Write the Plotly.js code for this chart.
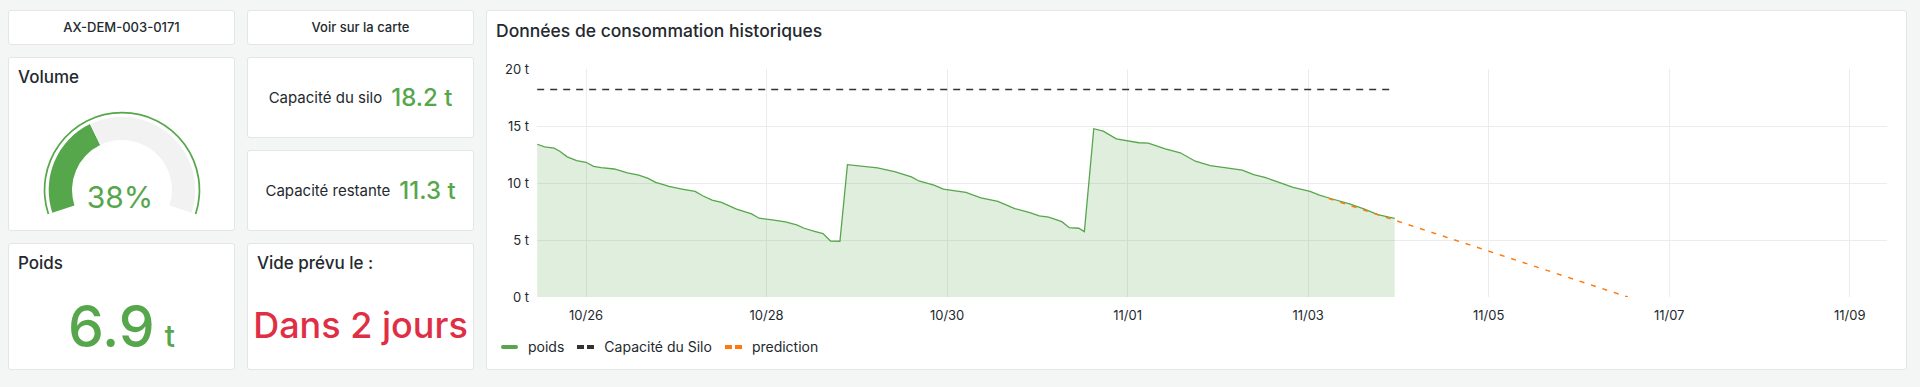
<!DOCTYPE html>
<html><head><meta charset="utf-8">
<script src="https://cdn.plot.ly/plotly-3.0.1.min.js"></script>
<style>
html,body{margin:0;padding:0;width:1920px;height:387px;background:#f4f5f5;overflow:hidden;font-family:Inter,"Open Sans",sans-serif;color:#24292e;}
.panel{position:absolute;background:#fff;box-shadow:inset 0 0 0 1px #e4e5e7;border-radius:3px;}
.center{display:flex;align-items:center;justify-content:center;line-height:1;}
.ptitle{position:absolute;left:10px;top:12px;font-size:17px;font-weight:500;line-height:1;white-space:nowrap;}
.lbl{font-size:15px;line-height:1;}
.val{font-size:24px;line-height:1;color:#56a64b;margin-left:9px;font-weight:500;}
.abs{position:absolute;line-height:1;white-space:nowrap;}
#legend{position:absolute;left:15px;top:327px;height:20px;display:flex;align-items:center;font-size:14px;line-height:1;}
.li{display:flex;align-items:center;margin-right:13px;}
.sw{width:17px;height:4px;border-radius:2px;margin-right:10px;}
.dsw{display:flex;margin-right:10px;}
.dsw span{width:7px;height:4px;margin-right:3px;}
</style>
</head><body>

<div class="panel center" style="left:8px;top:10px;width:227px;height:35px;font-size:13px;font-weight:500;" id="p-id"></div>
<div class="panel center" style="left:247px;top:10px;width:227px;height:35px;font-size:13px;font-weight:500;" id="p-map"></div>

<div class="panel" style="left:8px;top:57px;width:227px;height:174px;">
  <div class="ptitle" id="t-volume"></div>
</div>
<div class="panel center" style="left:247px;top:57px;width:227px;height:81px;">
  <span class="lbl" id="l-cap"></span><span class="val" id="v-cap"></span>
</div>
<div class="panel center" style="left:247px;top:150px;width:227px;height:81px;">
  <span class="lbl" id="l-rest"></span><span class="val" id="v-rest"></span>
</div>
<div class="panel" style="left:8px;top:243px;width:227px;height:127px;">
  <div class="ptitle" id="t-poids"></div>
  <div class="abs" style="left:0;width:227px;top:54.5px;text-align:center;font-size:57px;font-weight:500;color:#56a64b;" id="v-poids"></div>
</div>
<div class="panel" style="left:247px;top:243px;width:227px;height:127px;">
  <div class="ptitle" id="t-vide"></div>
  <div class="abs" style="left:0;width:227px;top:64px;text-align:center;font-size:36px;font-weight:500;color:#e02f44;" id="v-vide"></div>
</div>

<div class="panel" style="left:486px;top:10px;width:1421px;height:360px;">
  <div class="ptitle" id="t-chart" style="top:12px;font-size:17.5px;"></div>
  <div id="chart" style="position:absolute;left:0;top:0;width:1421px;height:360px;"></div>
  <div id="legend"></div>
</div>

<div id="gauge" style="position:absolute;left:42px;top:110px;width:160px;height:160px;"></div>
<div class="abs" id="v-pct" style="left:42px;width:156px;top:182.4px;text-align:center;font-size:30px;color:#56a64b;"></div>

<script>
// ---------- data ----------
const deviceId = "AX-DEM-003-0171";
const mapLinkLabel = "Voir sur la carte";
const siloCapacity = 18.2;      // t
const currentWeight = 6.9;      // t
const remainingCapacity = 11.3; // t
const volumePercent = 38;       // %
const emptyForecast = "Dans 2 jours";
const unit = "t";

const poidsTimes = [
"2024-10-25 11:00","2024-10-25 13:00","2024-10-25 15:30","2024-10-25 17:00","2024-10-25 19:00","2024-10-25 21:30",
"2024-10-26 00:00","2024-10-26 02:00","2024-10-26 04:00","2024-10-26 07:30","2024-10-26 11:00","2024-10-26 14:00","2024-10-26 16:30","2024-10-26 18:30","2024-10-26 21:00","2024-10-26 22:00",
"2024-10-27 01:30","2024-10-27 05:00","2024-10-27 07:00","2024-10-27 09:30","2024-10-27 12:00","2024-10-27 16:00","2024-10-27 20:00","2024-10-27 22:00",
"2024-10-28 01:30","2024-10-28 05:00","2024-10-28 08:00","2024-10-28 10:00","2024-10-28 12:45","2024-10-28 15:00","2024-10-28 17:00","2024-10-28 19:30","2024-10-28 21:30",
"2024-10-29 01:30","2024-10-29 05:30","2024-10-29 10:00","2024-10-29 14:30","2024-10-29 16:30","2024-10-29 20:30","2024-10-29 23:00",
"2024-10-30 02:00","2024-10-30 05:00","2024-10-30 09:00","2024-10-30 13:30","2024-10-30 18:00","2024-10-30 22:00",
"2024-10-31 00:30","2024-10-31 03:00","2024-10-31 06:30","2024-10-31 08:30","2024-10-31 11:00","2024-10-31 12:30","2024-10-31 15:00","2024-10-31 17:30","2024-10-31 21:00",
"2024-11-01 00:00","2024-11-01 03:00","2024-11-01 05:30","2024-11-01 10:00","2024-11-01 14:00","2024-11-01 18:00","2024-11-01 22:00",
"2024-11-02 02:30","2024-11-02 06:30","2024-11-02 09:30","2024-11-02 12:30","2024-11-02 15:30","2024-11-02 20:00",
"2024-11-03 00:30","2024-11-03 03:00","2024-11-03 06:00","2024-11-03 11:00","2024-11-03 15:00","2024-11-03 18:30","2024-11-03 21:30","2024-11-03 23:00"];
const poidsValues = [
13.40,13.17,13.05,12.79,12.29,11.97,
11.82,11.46,11.35,11.23,10.88,10.70,10.41,10.05,9.82,9.70,
9.47,9.26,8.88,8.50,8.29,7.71,7.29,6.91,
6.76,6.59,6.32,6.03,5.75,5.56,4.91,4.89,11.61,
11.44,11.32,11.00,10.53,10.18,9.82,9.47,
9.32,9.17,8.70,8.38,7.76,7.41,
7.12,7.00,6.61,6.08,6.03,5.73,14.76,14.55,13.88,
13.70,13.53,13.49,13.00,12.65,11.91,11.53,
11.29,11.12,10.73,10.49,10.14,9.61,
9.26,8.94,8.64,8.17,7.71,7.23,7.00,6.90];

const capTimes = ["2024-10-25 11:00","2024-11-03 23:00"];
const capValues = [18.2, 18.2];

const predTimes = ["2024-11-03 05:30","2024-11-06 13:00"];
const predValues = [8.64, 0];

const xRange = ["2024-10-25 10:57","2024-11-09 09:55"];
const xTickStart = "2024-10-26";
const yTicks = [0,5,10,15,20];

const seriesNames = ["poids","Capacité du Silo","prediction"];
const titles = {volume:"Volume", poids:"Poids", vide:"Vide prévu le :", chart:"Données de consommation historiques",
  cap:"Capacité du silo", rest:"Capacité restante"};

// ---------- styles ----------
const GREEN = "#56a64b", ORANGE = "#ff780a", DARK = "#333333", RED = "#e02f44";

// ---------- text panels ----------
document.getElementById("p-id").textContent = deviceId;
document.getElementById("p-map").textContent = mapLinkLabel;
document.getElementById("t-volume").textContent = titles.volume;
document.getElementById("t-poids").textContent = titles.poids;
document.getElementById("t-vide").textContent = titles.vide;
document.getElementById("t-chart").textContent = titles.chart;
document.getElementById("l-cap").textContent = titles.cap;
document.getElementById("l-rest").textContent = titles.rest;
document.getElementById("v-cap").textContent = siloCapacity.toFixed(1) + " " + unit;
document.getElementById("v-rest").textContent = remainingCapacity.toFixed(1) + " " + unit;
document.getElementById("v-poids").innerHTML = currentWeight.toFixed(1) + '<span style="font-size:30px;margin-left:10px;">' + unit + '</span>';
document.getElementById("v-vide").textContent = emptyForecast;
document.getElementById("v-pct").textContent = volumePercent + "%";

// legend
const legendColors = [GREEN, DARK, ORANGE];
const leg = document.getElementById("legend");
seriesNames.forEach((n, i) => {
  const item = document.createElement("div"); item.className = "li";
  if (i === 0) {
    const s = document.createElement("div"); s.className = "sw"; s.style.background = legendColors[i]; item.appendChild(s);
  } else {
    const d = document.createElement("div"); d.className = "dsw";
    d.innerHTML = '<span style="background:' + legendColors[i] + '"></span><span style="background:' + legendColors[i] + ';margin-right:0"></span>';
    item.appendChild(d);
  }
  const t = document.createElement("span"); t.textContent = n; item.appendChild(t);
  leg.appendChild(item);
});

// ---------- gauge (pies) ----------
const sweep = 216; // degrees of the gauge arc
const filled = sweep * volumePercent / 100;
const gaugeTraces = [
  { type:"pie", values:[sweep, 360 - sweep], marker:{colors:[GREEN, "rgba(0,0,0,0)"], line:{width:0}},
    hole:0.978, sort:false, direction:"clockwise", rotation:-108, textinfo:"none", hoverinfo:"skip",
    domain:{x:[0.0106,0.9894], y:[0.0106,0.9894]}, showlegend:false },
  { type:"pie", values:[filled, sweep - filled, 360 - sweep], marker:{colors:[GREEN, "#f2f2f2", "rgba(0,0,0,0)"], line:{width:0}},
    hole:0.682, sort:false, direction:"clockwise", rotation:-108, textinfo:"none", hoverinfo:"skip",
    domain:{x:[0.0419,0.9581], y:[0.0419,0.9581]}, showlegend:false }
];
Plotly.newPlot("gauge", gaugeTraces, {
  width:160, height:160, margin:{l:0,r:0,t:0,b:0}, paper_bgcolor:"rgba(0,0,0,0)", showlegend:false
}, {staticPlot:true, displayModeBar:false});

// ---------- time series ----------
const traces = [
  { type:"scatter", mode:"lines", name:seriesNames[0], x:poidsTimes, y:poidsValues,
    line:{color:GREEN, width:1.3}, fill:"tozeroy", fillcolor:"rgba(86,166,75,0.19)", hoverinfo:"skip" },
  { type:"scatter", mode:"lines", name:seriesNames[1], x:capTimes, y:capValues,
    line:{color:DARK, width:1.3, dash:"7px,6px"}, hoverinfo:"skip" },
  { type:"scatter", mode:"lines", name:seriesNames[2], x:predTimes, y:predValues,
    line:{color:ORANGE, width:1.5, dash:"5px,7px"}, hoverinfo:"skip" }
];
const layout = {
  width:1421, height:360,
  margin:{l:51, r:20, t:59, b:73, pad:0},
  paper_bgcolor:"rgba(0,0,0,0)", plot_bgcolor:"rgba(0,0,0,0)",
  showlegend:false,
  font:{family:"Inter, sans-serif", size:13, color:"#24292e"},
  xaxis:{type:"date", range:xRange, tick0:xTickStart, dtick:2*86400000, tickformat:"%m/%d",
    showgrid:true, gridcolor:"#ececec", gridwidth:1, zeroline:false, showline:false, ticks:"", ticklabelstandoff:9},
  yaxis:{range:[0,20], tickvals:yTicks, ticktext:yTicks.map(v => v + " " + unit),
    showgrid:true, gridcolor:"#ececec", gridwidth:1, zeroline:false, showline:false, ticks:"", ticklabelstandoff:7}
};
Plotly.newPlot("chart", traces, layout, {staticPlot:true, displayModeBar:false});
</script>
</body></html>
